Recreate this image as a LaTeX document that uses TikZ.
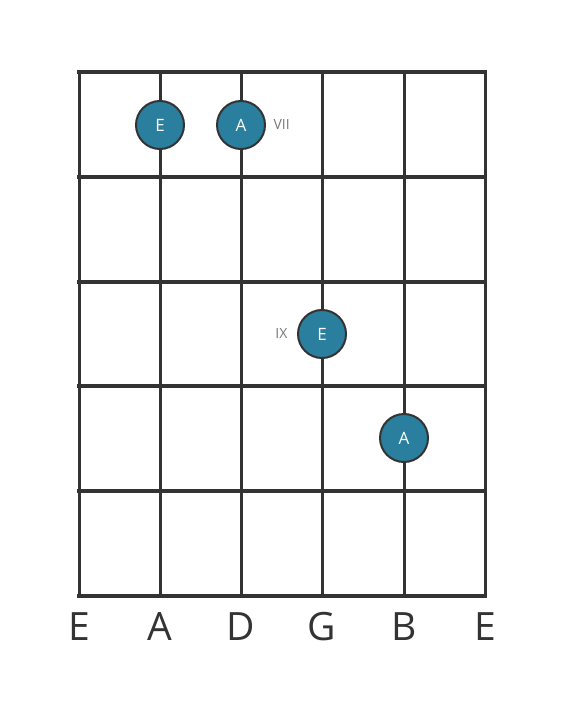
\documentclass[tikz,border=0pt]{standalone}
\usepackage{fontspec}
\setmainfont{Open Sans}
\usepackage{xcolor}
\usepackage{tikz}
\usetikzlibrary{positioning,calc}
\definecolor{fretgray}{HTML}{333333}
\definecolor{notefill}{HTML}{2A7F9E}
\definecolor{numgray}{HTML}{777777}
\tikzset{
  fretline/.style={draw=fretgray,line width=4.5pt},
  stringline/.style={draw=fretgray,line width=3pt},
  note/.style={circle,draw=fretgray,line width=2pt,fill=notefill,minimum size=48pt,inner sep=0pt,text=white,font=\fontsize{17}{17}\selectfont},
  fretnum/.style={text=numgray,font=\fontsize{14}{14}\selectfont},
  strname/.style={text=fretgray,font=\fontsize{39}{39}\selectfont}
}
\begin{document}
\begin{tikzpicture}[x=1pt,y=-1pt]
          \useasboundingbox (0,0) rectangle (566,711);
          % strings
          \foreach \s/\x in {1/79,2/160,3/241,4/322,5/404,6/485}
            \draw[stringline] (\x,72) -- (\x,596);
          % frets
          \foreach \y in {72,177,282,386,491,596}
            \draw[fretline] (77,\y) -- (487,\y);
          % notes
          \node[note] (e1) at (160,125) {E};
          \node[note] (a1) at (241,125) {A};
          \node[note] (e2) at (322,334) {E};
          \node[note] (a2) at (404,438) {A};
          \node[fretnum,right=4pt of a1] (vii) {VII};
          \node[fretnum,left=6pt of e2] (ix) {IX};
          % string names
          \foreach \n/\x/\t in {s1/79/E,s2/160/A,s3/241/D,s4/322/G,s5/404/B,s6/485/E}
            \node[strname] (\n) at (\x,627) {\t};
\end{tikzpicture}
\end{document}
